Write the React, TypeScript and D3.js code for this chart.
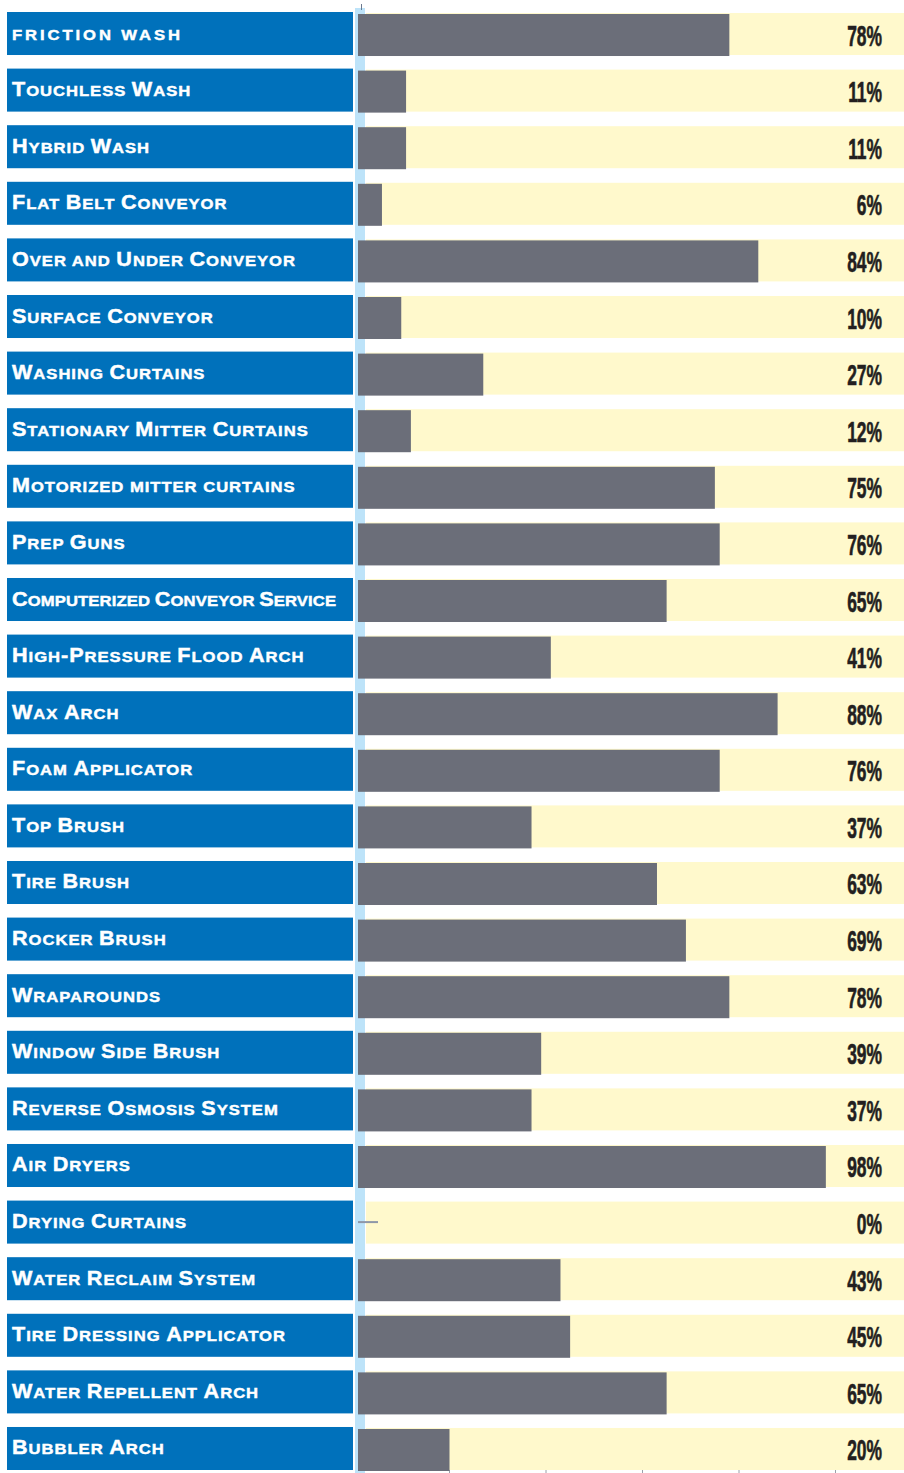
import React, { useEffect, useRef } from "react";
import * as d3 from "d3";

const categories: string[] = [
  "friction wash",
  "Touchless Wash",
  "Hybrid Wash",
  "Flat Belt Conveyor",
  "Over and Under Conveyor",
  "Surface Conveyor",
  "Washing Curtains",
  "Stationary Mitter Curtains",
  "Motorized mitter curtains",
  "Prep Guns",
  "Computerized Conveyor Service",
  "High-Pressure Flood Arch",
  "Wax Arch",
  "Foam Applicator",
  "Top Brush",
  "Tire Brush",
  "Rocker Brush",
  "Wraparounds",
  "Window Side Brush",
  "Reverse Osmosis System",
  "Air Dryers",
  "Drying Curtains",
  "Water Reclaim System",
  "Tire Dressing Applicator",
  "Water Repellent Arch",
  "Bubbler Arch",
];

const values: number[] = [
  78, 11, 11, 6, 84, 10, 27, 12, 75, 76, 65, 41, 88, 76, 37, 63, 69, 78, 39, 37,
  98, 0, 43, 45, 65, 20,
];

const ticks: number[] = [20, 40, 60, 80, 100];

const W = 904;
const H = 1473;
const BIG = 20;
const SMALL = 15.4;
const SX = 1.08;
const MAXW = 325 / SX;

function smallCaps(s: string) {
  const runs: { t: string; big: boolean }[] = [];
  for (const ch of s) {
    const last = runs[runs.length - 1];
    const isBig =
      ch === " " ? (last ? last.big : false) : ch !== ch.toLowerCase() || ch === "-";
    if (last && last.big === isBig) last.t += ch.toUpperCase();
    else runs.push({ t: ch.toUpperCase(), big: isBig });
  }
  return runs;
}

export default function App() {
  const ref = useRef<SVGSVGElement>(null);
  const y = d3
    .scaleBand<string>()
    .domain(categories)
    .range([12, 1470])
    .paddingInner(0.24)
    .paddingOuter(0);
  const x = d3.scaleLinear().domain([0, 100]).range([353, 835.5]);
  const bw = y.bandwidth();

  useEffect(() => {
    if (!ref.current) return;
    d3.select(ref.current)
      .selectAll<SVGTextElement, unknown>("text.lbl")
      .each(function () {
        const w = this.getComputedTextLength();
        if (w > MAXW) {
          this.setAttribute("textLength", String(MAXW));
          this.setAttribute("lengthAdjust", "spacing");
        }
      });
  }, []);

  return (
    <svg
      ref={ref}
      width={W}
      height={H}
      style={{ position: "absolute", left: 0, top: 0, background: "#fff" }}
    >
      <rect x={355} y={8} width={10} height={H - 8} fill="#BDE3F9" />
      <line x1={361.5} x2={361.5} y1={4} y2={10} stroke="#6b7a90" strokeWidth={1} />
      {ticks.map((t) => (
        <line
          key={t}
          x1={x(t)}
          x2={x(t)}
          y1={1469}
          y2={H}
          stroke="#9aa0aa"
          strokeWidth={1}
        />
      ))}
      {categories.map((c, i) => {
        const y0 = y(c)!;
        const v = values[i];
        const allLower = c === c.toLowerCase();
        return (
          <g key={c}>
            <rect x={7} y={y0} width={346} height={bw} fill="#0071BB" />
            <text
              className="lbl"
              transform={`translate(12, ${y0 + bw / 2 + 6}) scale(${SX}, 1)`}
              fill="#fff"
              fontFamily="'Liberation Sans', Arial, sans-serif"
              fontWeight={700}
              letterSpacing={allLower ? 2.7 : 0.9}
              stroke="#fff"
              strokeWidth={0.45}
            >
              {smallCaps(c).map((r, k) => (
                <tspan key={k} fontSize={r.big ? BIG : SMALL}>
                  {r.t}
                </tspan>
              ))}
            </text>
            <rect x={366} y={y0 + 1} width={W - 366} height={bw - 1} fill="#FFF9CC" />
            {v > 0 ? (
              <rect
                x={358}
                y={y0 + 2}
                width={x(v) - 358}
                height={bw - 1}
                fill="#6B6E79"
              />
            ) : (
              <rect x={358} y={y0 + bw / 2 - 1} width={20} height={2} fill="#8E97A8" />
            )}
            <text
              transform={`translate(882, ${y0 + bw / 2 + 12}) scale(0.6, 1)`}
              textAnchor="end"
              fill="#231F20"
              fontFamily="'Liberation Sans Narrow', 'Liberation Sans', Arial, sans-serif"
              fontWeight={700}
              fontSize={29}
              stroke="#231F20"
              strokeWidth={0.6}
            >
              {v}%
            </text>
          </g>
        );
      })}
    </svg>
  );
}
